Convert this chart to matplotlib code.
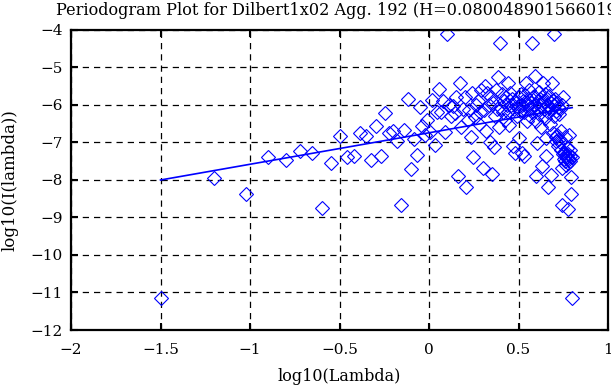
import matplotlib
matplotlib.use("Agg")
import matplotlib.pyplot as plt
from matplotlib.ticker import FuncFormatter

title = "Periodogram Plot for Dilbert1x02 Agg. 192 (H=0.080048901566019)"
xlabel = "log10(Lambda)"
ylabel = "log10(I(lambda))"

log_lambda = [
    -1.500, -1.199, -1.023, -0.898, -0.801, -0.722, -0.655, -0.597, -0.546, -0.500,
    -0.459, -0.421, -0.386, -0.354, -0.324, -0.296, -0.270, -0.245, -0.221, -0.199,
    -0.178, -0.158, -0.138, -0.120, -0.102, -0.085, -0.069, -0.053, -0.038, -0.023,
    -0.009, 0.005, 0.019, 0.031, 0.044, 0.056, 0.068, 0.080, 0.091, 0.102,
    0.113, 0.123, 0.133, 0.143, 0.153, 0.163, 0.172, 0.181, 0.190, 0.199,
    0.208, 0.216, 0.224, 0.232, 0.240, 0.248, 0.256, 0.263, 0.271, 0.278,
    0.285, 0.292, 0.299, 0.306, 0.313, 0.320, 0.326, 0.333, 0.339, 0.345,
    0.351, 0.357, 0.363, 0.369, 0.375, 0.381, 0.386, 0.392, 0.398, 0.403,
    0.408, 0.414, 0.419, 0.424, 0.429, 0.434, 0.440, 0.444, 0.449, 0.454,
    0.459, 0.464, 0.468, 0.473, 0.478, 0.482, 0.487, 0.491, 0.496, 0.500,
    0.504, 0.509, 0.513, 0.517, 0.521, 0.525, 0.529, 0.533, 0.537, 0.541,
    0.545, 0.549, 0.553, 0.557, 0.561, 0.564, 0.568, 0.572, 0.576, 0.579,
    0.583, 0.586, 0.590, 0.593, 0.597, 0.600, 0.604, 0.607, 0.611, 0.614,
    0.617, 0.621, 0.624, 0.627, 0.630, 0.634, 0.637, 0.640, 0.643, 0.646,
    0.649, 0.652, 0.655, 0.658, 0.661, 0.664, 0.667, 0.670, 0.673, 0.676,
    0.679, 0.682, 0.685, 0.688, 0.690, 0.693, 0.696, 0.699, 0.701, 0.704,
    0.707, 0.710, 0.712, 0.715, 0.717, 0.720, 0.723, 0.725, 0.728, 0.730,
    0.733, 0.736, 0.738, 0.741, 0.743, 0.745, 0.748, 0.750, 0.753, 0.755,
    0.758, 0.760, 0.762, 0.765, 0.767, 0.769, 0.772, 0.774, 0.776, 0.779,
    0.781, 0.783, 0.786, 0.788, 0.790, 0.792, 0.794, 0.797, 0.799,
]

log_I = [
    -11.15, -7.94, -8.38, -7.40, -7.47, -7.23, -7.29, -8.74, -7.56, -6.82,
    -7.40, -7.36, -6.76, -6.84, -7.48, -6.55, -7.35, -6.21, -6.75, -6.70,
    -6.95, -8.68, -6.67, -5.85, -7.71, -6.90, -7.33, -6.06, -6.56, -6.80,
    -6.40, -6.71, -5.87, -7.07, -6.20, -5.57, -6.18, -5.90, -6.71, -4.10,
    -6.00, -6.30, -6.04, -6.22, -5.80, -7.89, -5.42, -6.60, -6.10, -5.80,
    -8.18, -6.40, -6.13, -6.86, -5.69, -7.38, -6.31, -6.00, -5.90, -6.50,
    -6.20, -5.60, -7.69, -6.13, -5.49, -6.70, -5.69, -6.00, -6.98, -5.80,
    -7.84, -5.95, -7.11, -6.30, -5.60, -6.10, -5.26, -6.58, -4.35, -6.09,
    -5.70, -6.20, -5.90, -6.40, -5.80, -6.00, -5.42, -6.20, -6.53, -5.69,
    -6.00, -5.85, -7.09, -6.10, -7.29, -5.90, -5.95, -6.30, -6.05, -5.80,
    -6.89, -6.15, -5.70, -6.00, -7.29, -5.90, -7.36, -6.20, -5.73, -5.42,
    -6.44, -6.00, -5.85, -6.10, -5.60, -6.30, -5.95, -6.05, -4.35, -5.80,
    -6.15, -5.75, -5.24, -6.00, -7.89, -6.44, -7.02, -5.90, -6.10, -5.65,
    -6.25, -5.85, -6.00, -6.60, -5.80, -7.64, -5.42, -6.10, -5.90, -6.35,
    -5.70, -7.36, -6.89, -6.00, -5.85, -6.20, -8.18, -6.05, -5.75, -6.50,
    -5.95, -7.87, -5.42, -6.10, -6.75, -5.90, -6.30, -4.11, -6.00, -5.85,
    -6.85, -6.15, -6.95, -5.95, -6.80, -6.05, -7.10, -6.25, -6.90, -6.10,
    -7.00, -6.70, -7.20, -7.69, -6.00, -8.67, -5.80, -7.30, -7.45, -7.25,
    -6.85, -7.35, -7.50, -7.33, -7.60, -7.15, -7.40, -7.55, -8.78, -7.30,
    -7.45, -6.80, -7.50, -7.35, -7.20, -7.91, -8.37, -11.14, -7.40,
]

fit_x = [-1.5, 0.8]
fit_y = [-8.0, -6.07]

x_ticks = [-2, -1.5, -1, -0.5, 0, 0.5, 1]
y_ticks = [-12, -11, -10, -9, -8, -7, -6, -5, -4]

plt.rcParams['font.family'] = ['DejaVu Serif']
plt.rcParams['axes.unicode_minus'] = True

fig = plt.figure(figsize=(6.11, 3.85), dpi=100)
ax = fig.add_axes([71/611, 1 - 330/385, (608-71)/611, (330-30)/385])

ax.plot(log_lambda, log_I, linestyle='none', marker='D', markersize=7.5,
        markerfacecolor='none', markeredgecolor='#0000ff', markeredgewidth=0.8)
ax.plot(fit_x, fit_y, color='#0000ff', linewidth=1.2)

ax.set_xlim(-2, 1)
ax.set_ylim(-12, -4)
ax.set_xticks(x_ticks)
ax.set_yticks(y_ticks)
fmt = FuncFormatter(lambda v, p: ('%g' % v).replace('-', '\u2212'))
ax.xaxis.set_major_formatter(fmt)
ax.yaxis.set_major_formatter(fmt)
ax.tick_params(direction='in', length=5, width=1.5, top=True, right=True,
               labelsize=11)
ax.tick_params(axis='x', pad=9)
ax.tick_params(axis='y', pad=6)
ax.grid(True, color='black', linestyle=(0, (5, 4)), linewidth=0.9)
for s in ax.spines.values():
    s.set_linewidth(1.6)

ax.set_xlabel(xlabel, fontsize=11.5)
ax.xaxis.set_label_coords(0.5, -0.128)
ax.set_ylabel(ylabel, fontsize=12)
ax.yaxis.set_label_coords(-0.098, 0.5)
fig.text(339.5/611, 1 - 15/385, title, ha='center', va='baseline', fontsize=11.6)

fig.savefig("out.png", dpi=100)
